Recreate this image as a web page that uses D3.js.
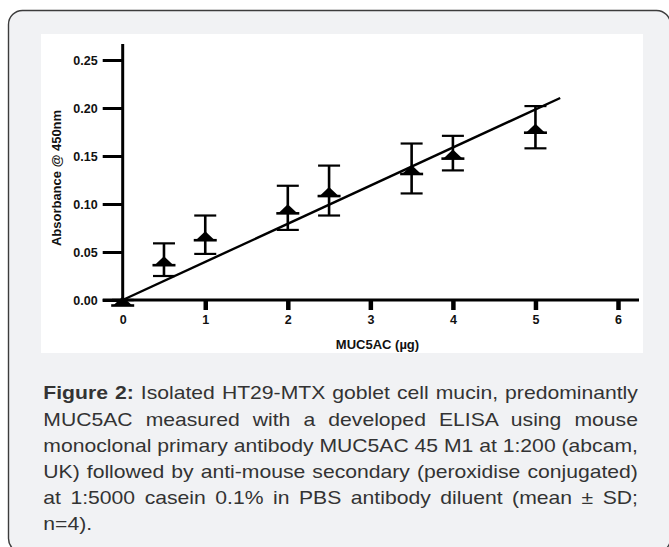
<!DOCTYPE html>
<html>
<head>
<meta charset="utf-8">
<script src="https://cdn.jsdelivr.net/npm/d3@7"></script>
<style>
  html, body { margin: 0; padding: 0; background: #ffffff; }
  svg { display: block; }
  text { font-family: "Liberation Sans", Arial, sans-serif; }
</style>
</head>
<body>
<svg id="chart" width="669" height="547"></svg>
<script>
// ---- data ----
const doses = [0, 0.5, 1, 2, 2.5, 3.5, 4, 5];                 // MUC5AC (µg)
const means = [0, 0.042, 0.068, 0.096, 0.114, 0.137, 0.153, 0.180]; // Absorbance
const sds   = [0, 0.017, 0.020, 0.023, 0.026, 0.026, 0.018, 0.022];
const fitSlope = 0.0397;
const fitIntercept = 0;
const fitRange = [0, 5.3];
const xTicks = [0, 1, 2, 3, 4, 5, 6];
const yTicks = [0, 0.05, 0.10, 0.15, 0.20, 0.25];
const xTitle = "MUC5AC (µg)";
const yTitle = "Absorbance @ 450nm";
const captionBold = "Figure 2:";
const captionLines = [
  " Isolated HT29-MTX goblet cell mucin, predominantly",
  "MUC5AC measured with a developed ELISA using mouse",
  "monoclonal primary antibody MUC5AC 45 M1 at 1:200 (abcam,",
  "UK) followed by anti-mouse secondary (peroxidise conjugated)",
  "at 1:5000 casein 0.1% in PBS antibody diluent (mean ± SD;",
  "n=4)."
];

const svg = d3.select("#chart");

// outer card
svg.append("rect")
  .attr("x", 8.5).attr("y", 10.5).attr("width", 662).attr("height", 542)
  .attr("rx", 14).attr("ry", 14)
  .attr("fill", "#f1f2f4").attr("stroke", "#3c3c3c").attr("stroke-width", 1.4);

// white chart panel
svg.append("rect")
  .attr("x", 41).attr("y", 34).attr("width", 602).attr("height", 319)
  .attr("fill", "#ffffff");

// scales
const x = d3.scaleLinear().domain([0, 6]).range([122.7, 618]);
const y = d3.scaleLinear().domain([0, 0.25]).range([300, 60]);

const g = svg.append("g");

// axis lines
g.append("line").attr("x1", x(0)).attr("x2", x(0)).attr("y1", 44).attr("y2", y(0))
  .attr("stroke", "#000").attr("stroke-width", 3);
g.append("line").attr("x1", 102.7).attr("x2", 639).attr("y1", y(0)).attr("y2", y(0))
  .attr("stroke", "#000").attr("stroke-width", 3);

// y axis
const yAxis = g.append("g").attr("transform", `translate(${x(0)},0)`)
  .call(d3.axisLeft(y).tickValues(yTicks).tickFormat(d3.format(".2f")).tickSize(20).tickPadding(5));
yAxis.select(".domain").remove();
yAxis.selectAll(".tick line").attr("stroke", "#000").attr("stroke-width", 3);
yAxis.selectAll(".tick text")
  .attr("font-family", "'Liberation Sans', Arial, sans-serif")
  .attr("font-size", 12.5).attr("font-weight", "bold").attr("fill", "#111");

// x axis
const xAxis = g.append("g").attr("transform", `translate(0,${y(0)})`)
  .call(d3.axisBottom(x).tickValues(xTicks).tickFormat(d3.format("d")).tickSize(10).tickPadding(5));
xAxis.select(".domain").remove();
xAxis.selectAll(".tick line").attr("stroke", "#000").attr("stroke-width", 4.5)
  .filter(d => d === 0).remove();
xAxis.selectAll(".tick text")
  .attr("font-family", "'Liberation Sans', Arial, sans-serif")
  .attr("font-size", 12.5).attr("font-weight", "bold").attr("fill", "#111");

// axis titles
g.append("text")
  .attr("transform", "translate(61,178) rotate(-90)")
  .attr("text-anchor", "middle")
  .attr("font-size", 13).attr("font-weight", "bold").attr("fill", "#111")
  .text(yTitle);
g.append("text")
  .attr("x", 377.5).attr("y", 348.5)
  .attr("text-anchor", "middle")
  .attr("font-size", 13).attr("font-weight", "bold").attr("fill", "#111")
  .text(xTitle);

// regression line
g.append("line")
  .attr("x1", x(fitRange[0])).attr("y1", y(fitIntercept + fitSlope * fitRange[0]))
  .attr("x2", x(fitRange[1])).attr("y2", y(fitIntercept + fitSlope * fitRange[1]))
  .attr("stroke", "#000").attr("stroke-width", 2.4);

// error bars + markers
const pts = doses.map((d, i) => ({ d, m: means[i], s: sds[i] }));
const capW = 11;
const eb = g.append("g").selectAll("g").data(pts).join("g");
eb.append("line")
  .attr("x1", p => x(p.d)).attr("x2", p => x(p.d))
  .attr("y1", p => y(p.m + p.s)).attr("y2", p => y(p.m - p.s))
  .attr("stroke", "#000").attr("stroke-width", 2.6);
eb.append("line")
  .attr("x1", p => x(p.d) - capW).attr("x2", p => x(p.d) + capW)
  .attr("y1", p => y(p.m + p.s)).attr("y2", p => y(p.m + p.s))
  .attr("stroke", "#000").attr("stroke-width", 2.2);
eb.append("line")
  .attr("x1", p => x(p.d) - capW).attr("x2", p => x(p.d) + capW)
  .attr("y1", p => y(p.m - p.s)).attr("y2", p => y(p.m - p.s))
  .attr("stroke", "#000").attr("stroke-width", 2.2);
// triangle marker with base bar
eb.append("path")
  .attr("transform", p => `translate(${x(p.d)},${y(p.m)})`)
  .attr("d", "M0,-3.5 L9.5,5.5 L-9.5,5.5 Z")
  .attr("fill", "#000");
eb.append("rect")
  .attr("x", p => x(p.d) - 11.5).attr("y", p => y(p.m) + 4.2)
  .attr("width", 23).attr("height", 2.6)
  .attr("fill", "#000");

// caption
const capLeft = 43.3, capRight = 638.5, capBase0 = 399.5, capLH = 26.2, capFS = 18;
const capG = svg.append("g");
const texts = captionLines.map((line, i) => {
  const t = capG.append("text")
    .attr("x", 0).attr("y", capBase0 + i * capLH)
    .attr("font-size", capFS).attr("fill", "#333");
  if (i === 0) {
    t.append("tspan").attr("font-weight", "bold").text(captionBold);
  }
  t.append("tspan").text(line);
  return t;
});
const widths = texts.map(t => t.node().getComputedTextLength());
const target = capRight - capLeft;
const sx = target / d3.max(widths.slice(0, 5));
texts.forEach((t, i) => {
  t.attr("transform", `translate(${capLeft},0) scale(${sx},1)`);
  if (i < 5) {
    const full = (i === 0 ? captionBold : "") + captionLines[i];
    const nSpaces = (full.match(/ /g) || []).length;
    const extra = target / sx - widths[i];
    if (nSpaces > 0 && extra > 0) t.attr("word-spacing", extra / nSpaces);
  }
});
</script>
</body>
</html>
